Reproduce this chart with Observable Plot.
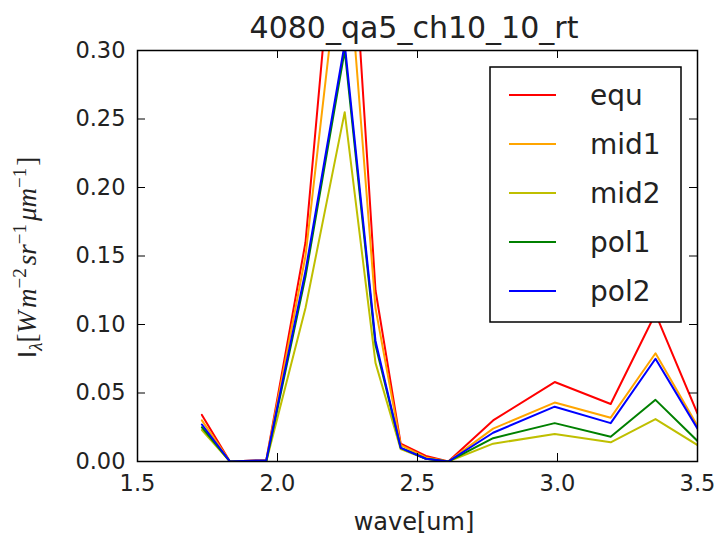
<!DOCTYPE html>
<html><head><meta charset="utf-8">
<script src="https://cdn.jsdelivr.net/npm/d3@7"></script>
<script src="https://cdn.jsdelivr.net/npm/@observablehq/plot@0.6"></script>
<style>body{margin:0;background:#fff} svg{display:block}</style>
</head><body><div id="chart"></div>
<script>
const wave = [1.73, 1.83, 1.96, 2.10, 2.24, 2.35, 2.44, 2.53, 2.61, 2.77, 2.99, 3.19, 3.35, 3.50];
const seriesNames = ["equ", "mid1", "mid2", "pol1", "pol2"];
const seriesColors = ["#ff0000", "#ffa500", "#bfbf00", "#008000", "#0000ff"];
const equ  = [0.034, 0.000, 0.001, 0.160, 0.480, 0.125, 0.013, 0.004, 0.000, 0.030, 0.058, 0.042, 0.108, 0.035];
const mid1 = [0.030, 0.000, 0.001, 0.150, 0.400, 0.112, 0.012, 0.003, 0.000, 0.024, 0.043, 0.032, 0.079, 0.026];
const mid2 = [0.023, 0.000, 0.000, 0.112, 0.255, 0.072, 0.009, 0.002, 0.000, 0.013, 0.020, 0.014, 0.031, 0.012];
const pol1 = [0.025, 0.000, 0.000, 0.135, 0.300, 0.085, 0.010, 0.002, 0.000, 0.017, 0.028, 0.018, 0.045, 0.015];
const pol2 = [0.027, 0.000, 0.001, 0.139, 0.305, 0.088, 0.010, 0.002, 0.000, 0.021, 0.040, 0.028, 0.075, 0.024];
const xTicks = [1.5, 2.0, 2.5, 3.0, 3.5];
const yTicks = [0.00, 0.05, 0.10, 0.15, 0.20, 0.25, 0.30];
const title = "4080_qa5_ch10_10_rt";
const xLabel = "wave[um]";

const values = {equ, mid1, mid2, pol1, pol2};
const rows = seriesNames.flatMap(name => wave.map((w, i) => ({name, wave: w, value: values[name][i]})));

const W = 717, H = 539, mL = 137, mR = 20, mT = 50, mB = 78;
const fw = W - mL - mR, fh = H - mT - mB;
const tickLen = 8;

const plot = Plot.plot({
  width: W, height: H, marginLeft: mL, marginRight: mR, marginTop: mT, marginBottom: mB,
  style: {fontFamily: "DejaVu Sans", fontSize: "22px", color: "#000", background: "#fff"},
  x: {domain: [1.5, 3.5]},
  y: {domain: [0, 0.3]},
  color: {domain: seriesNames, range: seriesColors},
  marks: [
    Plot.line(rows, {x: "wave", y: "value", z: "name", stroke: "name", strokeWidth: 2, clip: true}),
    Plot.tickX(xTicks, {x: d => d, insetTop: fh - tickLen, stroke: "#000", strokeWidth: 1}),
    Plot.tickX(xTicks, {x: d => d, insetBottom: fh - tickLen, stroke: "#000", strokeWidth: 1}),
    Plot.tickY(yTicks, {y: d => d, insetRight: fw - tickLen, stroke: "#000", strokeWidth: 1}),
    Plot.tickY(yTicks, {y: d => d, insetLeft: fw - tickLen, stroke: "#000", strokeWidth: 1}),
    Plot.axisX(xTicks, {tickSize: 0, tickPadding: 14, tickFormat: d => d.toFixed(1), fontSize: 22.5, fill: "#222", label: null}),
    Plot.axisY(yTicks, {tickSize: 0, tickPadding: 12, tickFormat: d => d.toFixed(2), fontSize: 22.5, fill: "#222", label: null}),
    Plot.frame({stroke: "#000", strokeWidth: 1.5})
  ]
});

const svg = d3.select(plot);
svg.append("text").attr("x", mL + fw / 2 - 3).attr("y", 38).attr("text-anchor", "middle")
  .attr("font-family", "DejaVu Sans").attr("font-size", 30).attr("fill", "#222").text(title);
svg.append("text").attr("x", mL + fw / 2 - 3).attr("y", 530).attr("text-anchor", "middle")
  .attr("font-family", "DejaVu Sans").attr("font-size", 24).attr("fill", "#222").text(xLabel);

// y label with math-like formatting
const yl = svg.append("text").attr("transform", `translate(36,${mT + fh / 2 + 2}) rotate(-90)`)
  .attr("text-anchor", "middle").attr("font-size", 27).attr("fill", "#222");
const parts = [
  {t: "I", f: "DejaVu Sans", s: 25},
  {t: "λ", f: "Liberation Serif", it: true, s: 19, dy: 6},
  {t: "[", f: "Liberation Serif", dy: -6},
  {t: "W", f: "Liberation Serif", it: true},
  {t: "m", f: "Liberation Serif", it: true, dx: 3},
  {t: "−2", f: "Liberation Serif", s: 19, dy: -10},
  {t: "sr", f: "Liberation Serif", it: true, dy: 10, dx: 3},
  {t: "−1", f: "Liberation Serif", s: 19, dy: -10},
  {t: "μm", f: "Liberation Serif", it: true, dy: 10, dx: 3},
  {t: "−1", f: "Liberation Serif", s: 19, dy: -10},
  {t: "]", f: "Liberation Serif", dy: 10, dx: 2}
];
for (const p of parts) {
  const ts = yl.append("tspan").attr("font-family", p.f).text(p.t);
  if (p.it) ts.attr("font-style", "italic");
  if (p.s) ts.attr("font-size", p.s);
  if (p.dy) ts.attr("dy", p.dy);
  if (p.dx) ts.attr("dx", p.dx);
}

// legend
const lg = svg.append("g");
lg.append("rect").attr("x", 490).attr("y", 67).attr("width", 191).attr("height", 255)
  .attr("fill", "#fff").attr("stroke", "#000").attr("stroke-width", 1.5);
seriesNames.forEach((name, i) => {
  const y = 95 + i * 49;
  lg.append("line").attr("x1", 509).attr("x2", 556).attr("y1", y).attr("y2", y)
    .attr("stroke", seriesColors[i]).attr("stroke-width", 2);
  lg.append("text").attr("x", 590).attr("y", y).attr("dy", "0.35em").attr("text-anchor", "start")
    .attr("font-family", "DejaVu Sans").attr("font-size", 28).attr("fill", "#222").text(name);
});

document.getElementById("chart").appendChild(plot);
</script></body></html>
